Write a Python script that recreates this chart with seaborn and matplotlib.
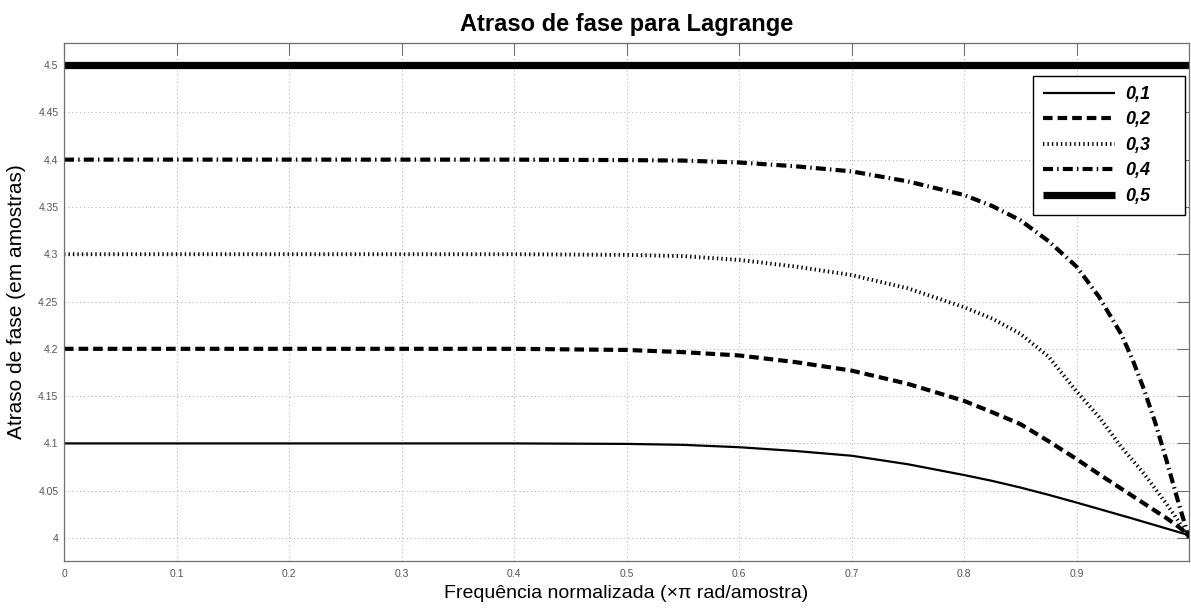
import matplotlib
matplotlib.use("Agg")
import matplotlib.pyplot as plt
import seaborn as sns
import pandas as pd

# Normalized frequency (x pi rad/sample)
freq = [0.0, 0.1, 0.2, 0.3, 0.4, 0.5, 0.55, 0.6, 0.65, 0.7, 0.75, 0.8, 0.825,
        0.85, 0.875, 0.9, 0.92, 0.94, 0.95, 0.96, 0.97, 0.98, 0.99, 1.0]

# Phase delay (samples) for each fractional delay
atraso_01 = [4.1, 4.1, 4.1, 4.1, 4.1, 4.0995, 4.0985, 4.096, 4.092, 4.087, 4.078,
             4.0666, 4.0604, 4.0534, 4.0457, 4.0375, 4.0307, 4.0239, 4.0205, 4.017,
             4.0135, 4.010, 4.0065, 4.003]
atraso_02 = [4.2, 4.2, 4.2, 4.2, 4.2, 4.1988, 4.1965, 4.193, 4.186, 4.177, 4.163,
             4.145, 4.133, 4.1205, 4.1025, 4.0835, 4.0675, 4.052, 4.0443, 4.0365,
             4.0287, 4.021, 4.0125, 4.003]
atraso_03 = [4.3, 4.3, 4.3, 4.3, 4.3, 4.2993, 4.298, 4.294, 4.287, 4.278, 4.264,
             4.244, 4.232, 4.216, 4.192, 4.155, 4.128, 4.096, 4.082, 4.068,
             4.052, 4.036, 4.019, 4.0]
atraso_04 = [4.4, 4.4, 4.4, 4.4, 4.4, 4.3995, 4.399, 4.397, 4.393, 4.3876, 4.377,
             4.3626, 4.351, 4.336, 4.314, 4.287, 4.255, 4.215, 4.188, 4.157,
             4.122, 4.082, 4.04, 4.0]
atraso_05 = [4.5, 4.5, 4.5, 4.5, 4.5, 4.5, 4.5, 4.5, 4.5, 4.5, 4.5, 4.5, 4.5,
             4.5, 4.5, 4.5, 4.5, 4.5, 4.5, 4.5, 4.5, 4.5, 4.5, 4.5]

labels = ["0,1", "0,2", "0,3", "0,4", "0,5"]
series = [atraso_01, atraso_02, atraso_03, atraso_04, atraso_05]

yticks = [4.0, 4.05, 4.1, 4.15, 4.2, 4.25, 4.3, 4.35, 4.4, 4.45, 4.5]
ytick_labels = ["4", "4.05", "4.1", "4.15", "4.2", "4.25", "4.3", "4.35", "4.4", "4.45", "4.5"]
xticks = [0, 0.1, 0.2, 0.3, 0.4, 0.5, 0.6, 0.7, 0.8, 0.9]
xtick_labels = ["0", "0.1", "0.2", "0.3", "0.4", "0.5", "0.6", "0.7", "0.8", "0.9"]

sns.set_style("white")
plt.rcParams["font.family"] = ["Liberation Sans", "DejaVu Sans"]
plt.rcParams["text.color"] = "black"
plt.rcParams["axes.labelcolor"] = "black"

# line styles: (linewidth, dash pattern in units of linewidth)
styles = [
    (1.6, None),
    (3.0, (2.3, 1.2)),
    (2.8, (0.35, 0.8)),
    (3.0, (2.4, 1.0, 0.35, 1.0)),
    (5.2, None),
]

frames = []
for lab, vals in zip(labels, series):
    frames.append(pd.DataFrame({"freq": freq, "atraso": vals, "d": lab}))
df = pd.concat(frames, ignore_index=True)

fig = plt.figure(figsize=(11.91, 6.08), dpi=100)
ax = fig.add_axes([64 / 1191, 47 / 608, 1125 / 1191, 518 / 608])

handles = []
for lab, (lw, dash) in zip(labels, styles):
    sub = df[df["d"] == lab]
    sns.lineplot(data=sub, x="freq", y="atraso", ax=ax, color="black",
                 linewidth=lw, estimator=None, sort=False, legend=False)
    line = ax.lines[-1]
    if dash is not None:
        line.set_dashes(list(dash))
        line.set_dash_capstyle("butt")
    line.set_solid_capstyle("butt")
    line.set_label(lab)
    handles.append(line)

ax.set_xlim(0, 1.0)
ax.set_ylim(3.9757, 4.5233)
ax.set_xticks(xticks)
ax.set_xticklabels(xtick_labels)
ax.set_yticks(yticks)
ax.set_yticklabels(ytick_labels)

axis_gray = "#6e6e6e"
ax.tick_params(direction="in", length=8.5, width=0.8, color=axis_gray,
               labelcolor="#555555", labelsize=7.5, top=True, right=True)
ax.tick_params(axis="x", pad=6)
ax.tick_params(axis="y", pad=4)
for sp in ax.spines.values():
    sp.set_color(axis_gray)
    sp.set_linewidth(0.9)

ax.grid(True, color="#a8a8a8", linewidth=0.7, linestyle=(0, (1, 3)))
ax.set_axisbelow(True)

ax.set_title("Atraso de fase para Lagrange", fontsize=17, fontweight="bold",
             pad=9, color="black")
ax.set_xlabel("Frequência normalizada (×π rad/amostra)", fontsize=14, labelpad=4)
ax.set_ylabel("Atraso de fase (em amostras)", fontsize=15, labelpad=9)

# legend box spanning a fixed region in the upper right corner
x0 = (1033 - 64) / 1125
y0 = (561 - 211) / 518
w = (1185 - 1033) / 1125
h = (211 - 76) / 518
leg = ax.legend(handles=handles, labels=labels, loc="upper left",
                bbox_to_anchor=(x0, y0, w, h), mode="expand",
                bbox_transform=ax.transAxes, borderaxespad=0,
                prop=dict(family="Liberation Sans", weight="bold", style="italic", size=13),
                handlelength=4.0, handletextpad=0.55, labelspacing=0.47,
                borderpad=0.55, fancybox=False, framealpha=1, edgecolor="black")
leg.get_frame().set_linewidth(1.0)

fig.savefig("out.png", dpi=100)
